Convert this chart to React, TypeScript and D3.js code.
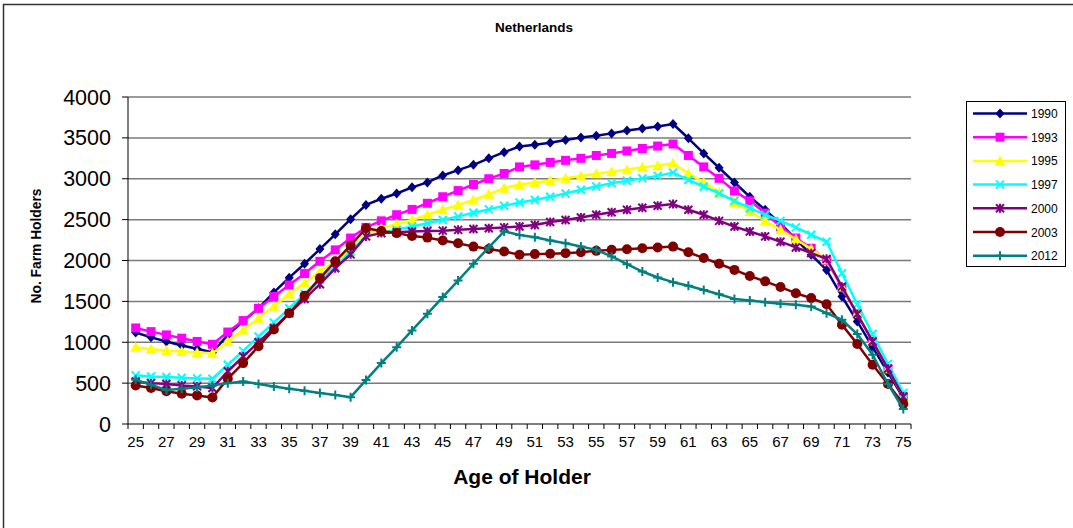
import React from "react";
import { useEffect, useRef } from "react";
import * as d3 from "d3";

// Ages on the category axis
const ages = d3.range(25, 76);

// Number of farm holders per age, one list per survey year
const y1990 = [1120, 1060, 1010, 960, 920, 875, 1090, 1255, 1415, 1610, 1790, 1960, 2140, 2320, 2505, 2680, 2755, 2820, 2895, 2955, 3040, 3105, 3170, 3250, 3325, 3395, 3415, 3440, 3475, 3505, 3525, 3555, 3590, 3615, 3640, 3670, 3495, 3310, 3135, 2955, 2780, 2620, 2450, 2260, 2070, 1885, 1560, 1255, 940, 630, 320];
const y1993 = [1175, 1130, 1090, 1050, 1010, 975, 1125, 1265, 1415, 1560, 1700, 1840, 1990, 2130, 2275, 2405, 2485, 2560, 2625, 2700, 2780, 2855, 2930, 3000, 3065, 3145, 3170, 3200, 3225, 3250, 3285, 3310, 3340, 3370, 3400, 3425, 3285, 3145, 3005, 2850, 2730, 2580, 2415, 2275, 2150, 2000, 1670, 1350, 1010, 675, 335];
const y1995 = [940, 915, 900, 888, 875, 865, 1010, 1150, 1295, 1440, 1590, 1725, 1865, 1990, 2130, 2315, 2395, 2445, 2495, 2560, 2620, 2680, 2740, 2810, 2885, 2930, 2955, 2975, 3005, 3035, 3060, 3085, 3110, 3140, 3160, 3190, 3065, 2955, 2835, 2710, 2600, 2485, 2375, 2260, 2140, 2010, 1680, 1355, 1020, 675, 335];
const y1997 = [595, 582, 574, 566, 558, 554, 725, 895, 1070, 1240, 1415, 1590, 1765, 1925, 2110, 2295, 2335, 2375, 2415, 2455, 2495, 2540, 2585, 2625, 2670, 2710, 2740, 2780, 2820, 2865, 2905, 2945, 2975, 3005, 3035, 3075, 2985, 2905, 2820, 2730, 2640, 2560, 2485, 2405, 2315, 2230, 1845, 1465, 1100, 735, 380];
const y2000 = [520, 500, 490, 472, 460, 440, 645, 825, 1000, 1175, 1355, 1530, 1710, 1905, 2075, 2295, 2335, 2345, 2355, 2360, 2365, 2375, 2385, 2395, 2405, 2415, 2435, 2470, 2495, 2525, 2560, 2590, 2620, 2645, 2670, 2690, 2620, 2560, 2485, 2415, 2355, 2295, 2230, 2160, 2090, 2020, 1680, 1345, 1010, 675, 335];
const y2003 = [470, 440, 400, 370, 350, 325, 555, 745, 950, 1155, 1355, 1570, 1785, 1990, 2185, 2395, 2360, 2335, 2300, 2280, 2245, 2210, 2170, 2140, 2110, 2070, 2078, 2082, 2090, 2100, 2118, 2130, 2138, 2150, 2160, 2170, 2100, 2030, 1960, 1885, 1810, 1745, 1675, 1600, 1540, 1465, 1215, 980, 725, 490, 245];
const y2012 = [540, 480, 415, 430, 448, 470, 500, 520, 490, 460, 432, 407, 379, 355, 328, 537, 745, 940, 1145, 1348, 1552, 1755, 1960, 2160, 2355, 2313, 2285, 2245, 2212, 2172, 2130, 2050, 1955, 1865, 1792, 1735, 1692, 1640, 1588, 1530, 1510, 1490, 1470, 1458, 1438, 1356, 1275, 1100, 847, 489, 183];

// Y axis ticks
const yTicks = [0, 500, 1000, 1500, 2000, 2500, 3000, 3500, 4000];

type Series = { name: string; values: number[]; color: string; marker: string };

const series: Series[] = [
  { name: "1990", values: y1990, color: "#000080", marker: "diamond" },
  { name: "1993", values: y1993, color: "#FF00FF", marker: "square" },
  { name: "1995", values: y1995, color: "#FFFF00", marker: "triangle" },
  { name: "1997", values: y1997, color: "#00FFFF", marker: "x" },
  { name: "2000", values: y2000, color: "#800080", marker: "star" },
  { name: "2003", values: y2003, color: "#800000", marker: "circle" },
  { name: "2012", values: y2012, color: "#008080", marker: "plus" },
];

const font = "'Liberation Sans', Arial, sans-serif";

// Draw one marker of the given kind at (x, y)
function drawMarker(
  g: d3.Selection<SVGGElement, unknown, null, undefined>,
  kind: string,
  x: number,
  y: number,
  color: string
) {
  if (kind === "diamond") {
    g.append("path")
      .attr("d", `M${x},${y - 5}L${x + 4.5},${y}L${x},${y + 5}L${x - 4.5},${y}Z`)
      .attr("fill", color);
  } else if (kind === "square") {
    g.append("rect")
      .attr("x", x - 4.5)
      .attr("y", y - 4.5)
      .attr("width", 9)
      .attr("height", 9)
      .attr("fill", color);
  } else if (kind === "triangle") {
    g.append("path")
      .attr("d", `M${x},${y - 5.5}L${x + 5.5},${y + 4.5}L${x - 5.5},${y + 4.5}Z`)
      .attr("fill", color);
  } else if (kind === "circle") {
    g.append("circle").attr("cx", x).attr("cy", y).attr("r", 5).attr("fill", color);
  } else {
    // line based markers: x, star (asterisk) and plus
    let d = "";
    if (kind === "x" || kind === "star") {
      d += `M${x - 4},${y - 4}L${x + 4},${y + 4}M${x - 4},${y + 4}L${x + 4},${y - 4}`;
    }
    if (kind === "star" || kind === "plus") {
      d += `M${x},${y - 4.5}L${x},${y + 4.5}`;
    }
    if (kind === "plus") {
      d += `M${x - 4.5},${y}L${x + 4.5},${y}`;
    }
    g.append("path")
      .attr("d", d)
      .attr("fill", "none")
      .attr("stroke", color)
      .attr("stroke-width", 2);
  }
}

const Chart: React.FC = () => {
  const svgRef = useRef<SVGSVGElement | null>(null);
  const W = 1073;
  const H = 528;
  const plot = { left: 128, right: 911, top: 97, bottom: 424 };

  useEffect(() => {
    if (!svgRef.current) return;
    const svg = d3.select(svgRef.current);
    svg.selectAll("*").remove();

    const xScale = d3
      .scaleBand<number>()
      .domain(ages)
      .range([plot.left, plot.right])
      .padding(0);
    const yScale = d3.scaleLinear().domain([0, 4000]).range([plot.bottom, plot.top]);
    const cx = (a: number) => (xScale(a) as number) + xScale.bandwidth() / 2;

    // Outer chart border (runs off the right and bottom edges)
    svg
      .append("rect")
      .attr("x", 3.5)
      .attr("y", 4.5)
      .attr("width", W + 20)
      .attr("height", H + 20)
      .attr("fill", "none")
      .attr("stroke", "#333")
      .attr("stroke-width", 1.5);

    // Title
    svg
      .append("text")
      .attr("x", 534)
      .attr("y", 32)
      .attr("text-anchor", "middle")
      .style("font-family", font)
      .style("font-size", "13.5px")
      .style("font-weight", "bold")
      .text("Netherlands");

    // Gridlines
    svg
      .append("g")
      .selectAll("line")
      .data(yTicks.filter((t) => t > 0))
      .enter()
      .append("line")
      .attr("x1", plot.left)
      .attr("x2", plot.right)
      .attr("y1", (d) => yScale(d))
      .attr("y2", (d) => yScale(d))
      .attr("stroke", "#7a7a7a")
      .attr("stroke-width", 1.5);

    // Y axis
    const yAxis = svg.append("g");
    yAxis
      .append("line")
      .attr("x1", plot.left)
      .attr("x2", plot.left)
      .attr("y1", plot.top)
      .attr("y2", plot.bottom)
      .attr("stroke", "#000")
      .attr("stroke-width", 1);
    yTicks.forEach((t) => {
      yAxis
        .append("line")
        .attr("x1", plot.left - 6)
        .attr("x2", plot.left)
        .attr("y1", yScale(t))
        .attr("y2", yScale(t))
        .attr("stroke", "#000");
      yAxis
        .append("text")
        .attr("x", 111)
        .attr("y", yScale(t) + 7.5)
        .attr("text-anchor", "end")
        .style("font-family", font)
        .style("font-size", "21.5px")
        .text(t);
    });

    // X axis
    const xAxis = svg.append("g");
    xAxis
      .append("line")
      .attr("x1", plot.left)
      .attr("x2", plot.right)
      .attr("y1", plot.bottom)
      .attr("y2", plot.bottom)
      .attr("stroke", "#000");
    ages.forEach((a) => {
      const x0 = xScale(a) as number;
      xAxis
        .append("line")
        .attr("x1", x0)
        .attr("x2", x0)
        .attr("y1", plot.bottom)
        .attr("y2", plot.bottom + 5)
        .attr("stroke", "#000");
      if (a % 2 === 1) {
        xAxis
          .append("text")
          .attr("x", cx(a))
          .attr("y", 447)
          .attr("text-anchor", "middle")
          .style("font-family", font)
          .style("font-size", "15px")
          .text(a);
      }
    });
    xAxis
      .append("line")
      .attr("x1", plot.right)
      .attr("x2", plot.right)
      .attr("y1", plot.bottom)
      .attr("y2", plot.bottom + 5)
      .attr("stroke", "#000");

    // Axis titles
    svg
      .append("text")
      .attr("x", 522)
      .attr("y", 484)
      .attr("text-anchor", "middle")
      .style("font-family", font)
      .style("font-size", "21px")
      .style("font-weight", "bold")
      .text("Age of Holder");
    svg
      .append("text")
      .attr("transform", "translate(41,246) rotate(-90)")
      .attr("text-anchor", "middle")
      .style("font-family", font)
      .style("font-size", "13.8px")
      .style("font-weight", "bold")
      .text("No. Farm Holders");

    // Lines and markers
    const line = d3
      .line<number>()
      .x((_d, i) => cx(ages[i]))
      .y((d) => yScale(d));
    series.forEach((s) => {
      const g = svg.append("g");
      g.append("path")
        .datum(s.values)
        .attr("d", line)
        .attr("fill", "none")
        .attr("stroke", s.color)
        .attr("stroke-width", 2.5)
        .attr("stroke-linejoin", "round");
      s.values.forEach((v, i) => drawMarker(g, s.marker, cx(ages[i]), yScale(v), s.color));
    });

    // Legend
    const legend = svg.append("g");
    legend
      .append("rect")
      .attr("x", 966.5)
      .attr("y", 101.5)
      .attr("width", 99)
      .attr("height", 165)
      .attr("fill", "#fff")
      .attr("stroke", "#000");
    series.forEach((s, i) => {
      const ly = 113.5 + i * 23.7;
      legend
        .append("line")
        .attr("x1", 973)
        .attr("x2", 1027)
        .attr("y1", ly)
        .attr("y2", ly)
        .attr("stroke", s.color)
        .attr("stroke-width", 2.5);
      drawMarker(legend, s.marker, 1000, ly, s.color);
      legend
        .append("text")
        .attr("x", 1031)
        .attr("y", ly + 4.5)
        .style("font-family", font)
        .style("font-size", "12px")
        .text(s.name);
    });
  }, []);

  return (
    <svg
      ref={svgRef}
      width={W}
      height={H}
      style={{ position: "absolute", left: 0, top: 0, background: "#fff" }}
    ></svg>
  );
};

export default function App() {
  return <Chart />;
}
